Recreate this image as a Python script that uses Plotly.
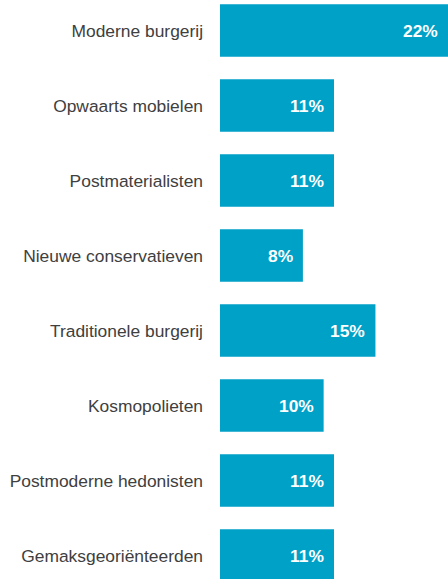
import plotly.graph_objects as go

# Segment shares (percent), listed top to bottom
segments = [
    "Moderne burgerij",
    "Opwaarts mobielen",
    "Postmaterialisten",
    "Nieuwe conservatieven",
    "Traditionele burgerij",
    "Kosmopolieten",
    "Postmoderne hedonisten",
    "Gemaksgeoriënteerden",
]
shares = [22, 11, 11, 8, 15, 10, 11, 11]

BAR_COLOR = "#00A1C7"
LABEL_COLOR = "#404040"
FONT = "Liberation Sans, Arial, sans-serif"

fig = go.Figure(
    go.Bar(
        x=shares,
        y=segments,
        orientation="h",
        marker=dict(color=BAR_COLOR, line=dict(width=0)),
        width=0.7,
        hoverinfo="skip",
    )
)

# Value labels placed inside the bar end
for seg, val in zip(segments, shares):
    fig.add_annotation(
        x=val, y=seg, text=f"<b>{val}%</b>",
        xanchor="right", yanchor="middle", xshift=-8, showarrow=False,
        font=dict(family=FONT, size=17.4, color="white"),
    )

fig.update_layout(
    width=448, height=579,
    margin=dict(l=220, r=0, t=0, b=0),
    paper_bgcolor="white", plot_bgcolor="white",
    showlegend=False,
    xaxis=dict(range=[0, 22], visible=False, fixedrange=True),
    yaxis=dict(
        categoryorder="array", categoryarray=segments,
        range=[7.313, -0.407],
        showgrid=False, zeroline=False, showline=False,
        ticks="", ticklabelstandoff=16,
        tickfont=dict(family=FONT, size=17.4, color=LABEL_COLOR),
    ),
)

fig.write_html("out.html")
